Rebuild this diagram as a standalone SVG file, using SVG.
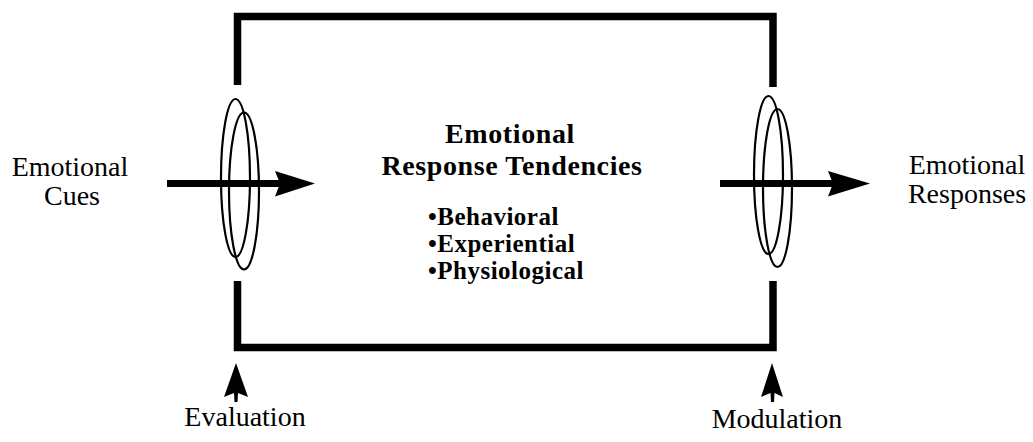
<svg xmlns="http://www.w3.org/2000/svg" width="1033" height="442" viewBox="0 0 1033 442">
<style>
.frame{fill:none;stroke:#000;stroke-width:7.5;stroke-linejoin:miter;stroke-linecap:butt}
.ring{fill:none;stroke:#000;stroke-width:2.2}
.shaft{stroke:#000;stroke-width:7}
.head{fill:#000}
.lbl{font-family:"Liberation Serif","Times New Roman",serif;font-size:28px;fill:#000}
.bold{font-family:"Liberation Serif","Times New Roman",serif;font-weight:bold;fill:#000}
</style>
<rect width="1033" height="442" fill="#fff"/>
<g id="frame">
<path class="frame" d="M237.5,85 V16.5 H773 V87"/>
<path class="frame" d="M237.5,281 V347.5 H773 V281"/>
</g>
<g id="evaluation-gate">
<ellipse class="ring" cx="235.5" cy="178" rx="14.5" ry="79"/>
<ellipse class="ring" cx="244" cy="191" rx="15" ry="78.5"/>
</g>
<g id="modulation-gate">
<ellipse class="ring" cx="768.5" cy="175" rx="14.5" ry="79"/>
<ellipse class="ring" cx="777.5" cy="188" rx="14.5" ry="79"/>
</g>
<g id="connectors">
<line class="shaft" x1="167" y1="183.5" x2="285" y2="183.5"/>
<polygon class="head" points="315,183.5 275,171 280,183.5 275,196.5"/>
<line class="shaft" x1="720" y1="183.5" x2="838" y2="183.5"/>
<polygon class="head" points="870,183.5 828,171 833,183.5 828,196.5"/>
<polygon class="head" points="236,363 224,397 234,393 234.5,402 237.5,402 238,393 248,397"/>
<polygon class="head" points="772,363 761,397 770.5,393 771,402 774,402 774.5,393 783,397"/>
</g>
<g id="emotional-cues">
<text class="lbl" x="70" y="176" text-anchor="middle">Emotional</text>
<text class="lbl" x="72" y="205" text-anchor="middle">Cues</text>
</g>
<g id="emotional-responses">
<text class="lbl" x="967" y="174" text-anchor="middle">Emotional</text>
<text class="lbl" x="967" y="203" text-anchor="middle">Responses</text>
</g>
<g id="response-tendencies">
<text class="bold" x="510" y="143" font-size="28" text-anchor="middle" letter-spacing="0.6">Emotional</text>
<text class="bold" x="512" y="175" font-size="28" text-anchor="middle" letter-spacing="0.6">Response Tendencies</text>
<text class="bold" x="428" y="225" font-size="25" letter-spacing="0.5">•Behavioral</text>
<text class="bold" x="428" y="252" font-size="25" letter-spacing="0.5">•Experiential</text>
<text class="bold" x="428" y="279" font-size="25" letter-spacing="0.5">•Physiological</text>
</g>
<g id="evaluation">
<text class="lbl" x="245" y="426" text-anchor="middle">Evaluation</text>
</g>
<g id="modulation">
<text class="lbl" x="777" y="428" text-anchor="middle">Modulation</text>
</g>
</svg>
